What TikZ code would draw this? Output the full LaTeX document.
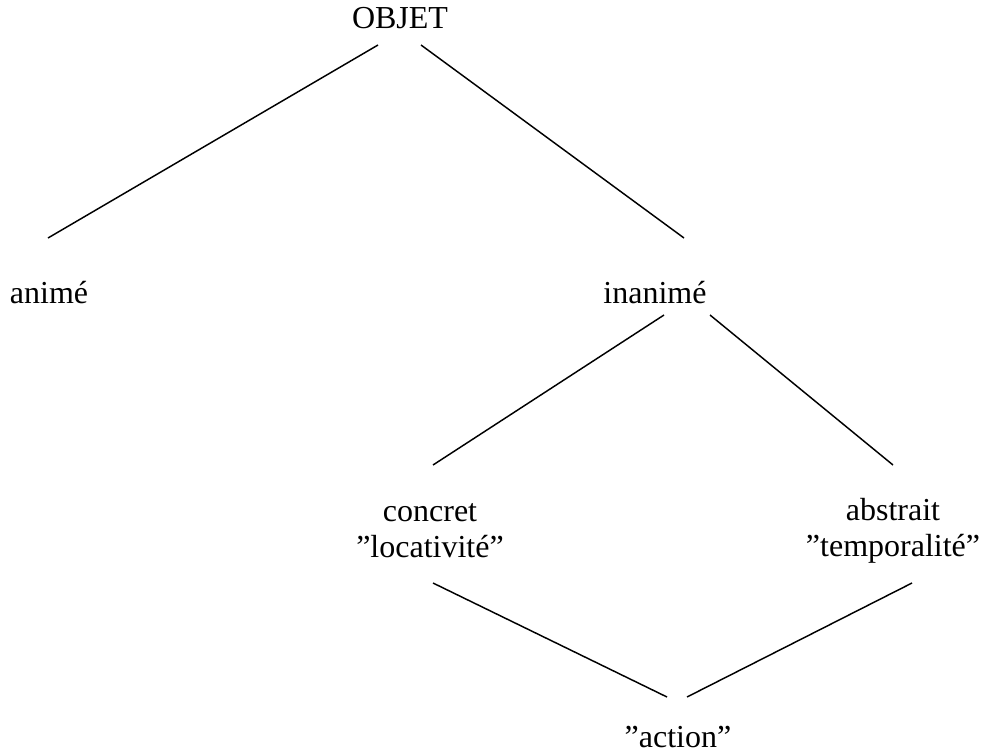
\documentclass[tikz,border=0pt]{standalone}
\usepackage{fontspec}
\setmainfont{Liberation Serif}
\begin{document}
\begin{tikzpicture}[x=0.75pt,y=-0.75pt,
  lbl/.style={inner sep=0pt,align=center,font=\fontsize{24}{27}\selectfont},
  edge/.style={line width=1.1pt}]
\useasboundingbox (0,0) rectangle (994,753);
\node[lbl] (objet) at (400,18) {OBJET};
\node[lbl] (anime) at (49,293) {animé};
\node[lbl] (inanime) at (655,293) {inanimé};
\node[lbl] (concret) at (430,531) {concret\\''locativité''};
\node[lbl] (abstrait) at (893,531) {abstrait\\''temporalité''};
\node[lbl] (action) at (678,737) {''action''};
\coordinate (oa) at (378,45);
\coordinate (ob) at (421,45);
\coordinate (an) at (48,238);
\coordinate (in) at (684,238);
\coordinate (ia) at (664,315);
\coordinate (ib) at (710,315);
\coordinate (ca) at (433,465);
\coordinate (ab) at (893,465);
\coordinate (cl) at (433,583);
\coordinate (tl) at (912,583);
\coordinate (aa) at (667,697);
\coordinate (ac) at (687,697);
\draw[edge] (oa) -- (an);
\draw[edge] (ob) -- (in);
\draw[edge] (ia) -- (ca);
\draw[edge] (ib) -- (ab);
\draw[edge] (cl) -- (aa);
\draw[edge] (tl) -- (ac);
\end{tikzpicture}
\end{document}
